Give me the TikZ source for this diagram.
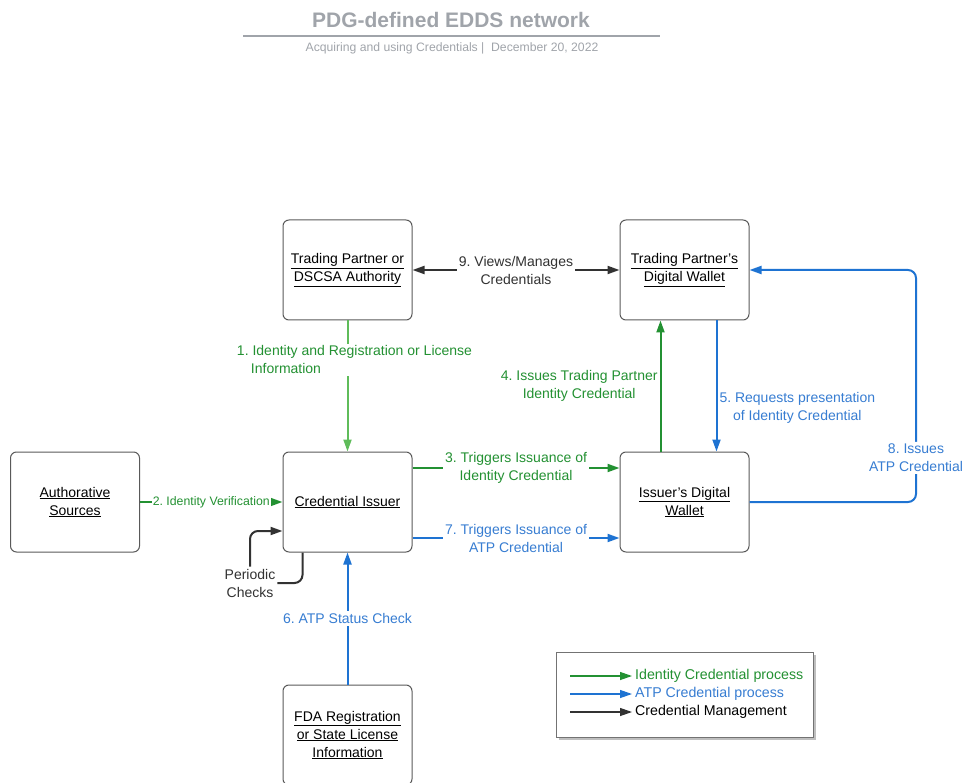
\documentclass[tikz,border=0pt]{standalone}
\usepackage{fontspec}
\setmainfont{Liberation Sans}
\usetikzlibrary{
    arrows.meta,
    calc,
    positioning,
    shadows
}
\definecolor{idgrn}{RGB}{35,145,50}
\definecolor{idgrnl}{RGB}{95,188,90}
\definecolor{atpblu}{RGB}{30,115,210}
\definecolor{atptxt}{RGB}{55,125,210}
\definecolor{mgblk}{RGB}{50,50,50}
\definecolor{hdgry}{RGB}{160,164,170}
\newcommand{\bxt}[1]{\underline{#1}}
\frenchspacing
\tikzset{
    bx/.style={draw=black!65, line width=1pt, rounded corners=6pt, minimum width=129pt, minimum height=100pt, align=center, font=\fontsize{14}{18}\selectfont},
    lbl/.style={fill=white, align=center, inner sep=2pt, font=\fontsize{14}{18}\selectfont},
    grn/.style={draw=idgrn, line width=2pt, text=idgrn},
    grnl/.style={draw=idgrnl, line width=2pt, text=idgrn},
    blu/.style={draw=atpblu, line width=2pt, text=atptxt},
    blk/.style={draw=mgblk, line width=2pt, text=mgblk},
    lgkey/.style={anchor=west, inner sep=3pt, font=\fontsize{14.2}{16}\selectfont}
}

\begin{document}
\begin{tikzpicture}[x=1pt, y=-1pt, >={Triangle[length=12pt,width=8pt]}]
    \useasboundingbox (0,0) rectangle (966,783);
    \node[text=hdgry, font=\fontsize{21}{24}\selectfont\bfseries] (ttl) at (451,20) {PDG-defined EDDS network};
    \draw[hdgry, line width=1.2pt] (243,36) -- (660,36);
    \node[text=hdgry, font=\fontsize{12.2}{14}\selectfont] (subttl) at (452,48) {Acquiring and using Credentials \textbar\ \ December 20, 2022};

    \node[bx] (tp) at (347.5,270) {\bxt{Trading Partner or}\\\bxt{DSCSA Authority}};
    \node[bx] (tpw) at (684.5,270) {\bxt{Trading Partner's}\\\bxt{Digital Wallet}};
    \node[bx] (as) at (75,502) {\bxt{Authorative}\\\bxt{Sources}};
    \node[bx] (ci) at (347.5,502) {\bxt{Credential Issuer}};
    \node[bx] (iw) at (684.5,502) {\bxt{Issuer's Digital}\\\bxt{Wallet}};
    \node[bx] (fda) at (347.5,735) {\bxt{FDA Registration}\\\bxt{or State License}\\\bxt{Information}};

    \draw[blk,<->] (tp) -- node[lbl] {9. Views/Manages\\Credentials} (tpw);
    \draw[grnl,->] (tp) -- node[lbl, pos=0.3, xshift=7pt, align=left] {1. Identity and Registration or License\\\hspace{14pt}Information} (ci);
    \draw[grn,->] (as) -- node[lbl, inner sep=1pt, font=\fontsize{12.3}{14}\selectfont] {2. Identity Verification} (ci);
    \draw[grn,->] ([yshift=34pt]ci.east) -- node[lbl] {3. Triggers Issuance of\\Identity Credential} ([yshift=34pt]iw.west);
    \draw[grn,->] ($(iw.north west)+(41,0)$) -- node[lbl, left, pos=0.5] {4. Issues Trading Partner\\Identity Credential} ($(tpw.south west)+(41,0)$);
    \draw[blu,->] ($(tpw.south west)+(97,0)$) -- node[lbl, right, pos=0.67] {5. Requests presentation\\of Identity Credential} ($(iw.north west)+(97,0)$);
    \draw[blu,->] (fda) -- node[lbl] {6. ATP Status Check} (ci);
    \draw[blu,->] ([yshift=-36pt]ci.east) -- node[lbl] {7. Triggers Issuance of\\ATP Credential} ([yshift=-36pt]iw.west);
    \coordinate (rt) at (916,0);
    \draw[blu,->,rounded corners=8pt] (iw.east) -- (iw.east -| rt) -- node[lbl, pos=0.19] {8. Issues\\ATP Credential} (tpw.east -| rt) -- (tpw.east);

    \node[lbl, text=mgblk] (pc) at (250,583) {Periodic\\Checks};
    \draw[blk,rounded corners=8pt] ($(ci.south west)+(20,0)$) |- (pc.east);
    \draw[blk,->,rounded corners=8pt] (pc.north) |- ([yshift=-29pt]ci.west);

    \node[draw=black!55, fill=white, line width=0.8pt, minimum width=257pt, minimum height=85pt, drop shadow={opacity=0.5, shadow xshift=2.5pt, shadow yshift=-2.5pt}] (lg) at (684.5,694.5) {};
    \node[lgkey, text=idgrn] (k1) at (632,676) {Identity Credential process};
    \node[lgkey, text=atptxt] (k2) at (632,694) {ATP Credential process};
    \node[lgkey, text=black] (k3) at (632,712) {Credential Management};
    \coordinate (s1) at (570,676);
    \coordinate (s2) at (570,694);
    \coordinate (s3) at (570,712);
    \draw[grn, line width=1.2pt, ->] (s1) -- (k1);
    \draw[blu, line width=1.2pt, ->] (s2) -- (k2);
    \draw[blk, line width=1.2pt, ->] (s3) -- (k3);
\end{tikzpicture}
\end{document}
